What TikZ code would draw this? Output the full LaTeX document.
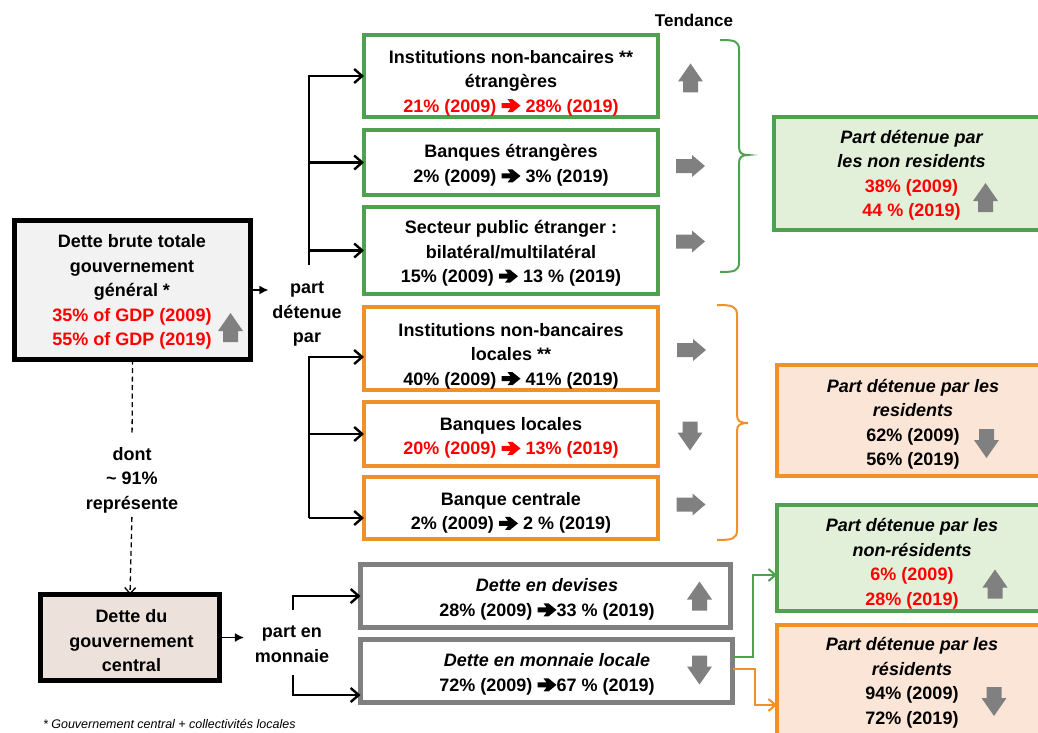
\documentclass[tikz,border=0pt]{standalone}
\usepackage{fontspec}
\setmainfont{Liberation Sans}
\usetikzlibrary{arrows.meta}
\definecolor{gboxc}{RGB}{78,161,78}
\definecolor{oboxc}{RGB}{240,144,40}
\definecolor{grayc}{RGB}{128,128,128}
\definecolor{arrgray}{RGB}{128,128,128}
\definecolor{redc}{RGB}{255,0,0}
\definecolor{gfill}{RGB}{226,240,217}
\definecolor{ofill}{RGB}{251,229,214}
\definecolor{lgfill}{RGB}{242,242,242}
\definecolor{pfill}{RGB}{237,226,219}
\newcommand\harr[1]{\tikz[baseline=0pt,x=1pt,y=1pt]\fill[#1] (0,4) -- (9,4) -- (6,0) -- (11,0) -- (19,6.5) -- (11,13) -- (6,13) -- (9,9) -- (0,9) -- cycle;}
\tikzset{
 uparr/.pic={\fill[arrgray] (-7.5,14.5) -- (-7.5,3.5) -- (-12.5,3.5) -- (0,-14.5) -- (12.5,3.5) -- (7.5,3.5) -- (7.5,14.5) -- cycle;},
 dnarr/.pic={\fill[arrgray] (-7.5,-14.5) -- (-7.5,-3.5) -- (-12.5,-3.5) -- (0,14.5) -- (12.5,-3.5) -- (7.5,-3.5) -- (7.5,-14.5) -- cycle;},
 rtarr/.pic={\fill[arrgray] (-14.5,-7) -- (1.5,-7) -- (1.5,-11) -- (14.5,0) -- (1.5,11) -- (1.5,7) -- (-14.5,7) -- cycle;}
}
\begin{document}
\begin{tikzpicture}[x=1pt,y=-1pt,
  every node/.style={inner sep=0pt, outer sep=0pt},
  txt/.style={font=\fontsize{18}{24.5}\selectfont\bfseries, align=center},
  box/.style={rectangle},
  gbox/.style={box, draw=gboxc, line width=4pt, fill=white, minimum width=294pt},
  obox/.style={box, draw=oboxc, line width=4pt, fill=white, minimum width=294pt},
  ybox/.style={box, draw=grayc, line width=5pt, fill=white},
  kbox/.style={box, draw=black, line width=5pt},
  rgbox/.style={box, draw=gboxc, line width=4pt, fill=gfill},
  robox/.style={box, draw=oboxc, line width=4pt, fill=ofill},
  conn/.style={line width=2.4pt, -{Straight Barb[length=8pt,width=14pt]}},
  thinconn/.style={line width=2pt, -{Straight Barb[length=7pt,width=12pt]}},
  fillarr/.style={line width=1.8pt, -{Latex[length=9pt,width=9pt]}},
  brace/.style={line width=2pt},
  dline/.style={line width=1.3pt, dash pattern=on 5pt off 3.5pt},
]
\useasboundingbox (0,0) rectangle (1038,733);
\clip (0,0) rectangle (1038,733);

% boxes
\node[kbox, fill=lgfill, minimum width=236pt, minimum height=139pt] (B0) at (132.5,290) {};
\node[kbox, fill=pfill, minimum width=179pt, minimum height=86pt] (B9) at (130,637.5) {};
\node[gbox, minimum height=82pt] (B1) at (511,76) {};
\node[gbox, minimum height=65pt] (B2) at (511,162.5) {};
\node[gbox, minimum height=87pt] (B3) at (511,250.5) {};
\node[obox, minimum height=83pt] (B4) at (511,348.5) {};
\node[obox, minimum height=64pt] (B5) at (511,434) {};
\node[obox, minimum height=62pt] (B6) at (511,508) {};
\node[ybox, minimum width=370pt, minimum height=63pt] (B7) at (545.5,596) {};
\node[ybox, minimum width=372pt, minimum height=63pt] (B8) at (546.5,671) {};
\node[rgbox, minimum width=284pt, minimum height=113pt] (R1) at (916,173.5) {};
\node[robox, minimum width=281pt, minimum height=111pt] (R2) at (917.5,420.5) {};
\node[rgbox, minimum width=281pt, minimum height=106pt] (R3) at (917.5,558) {};
\node[robox, minimum width=281pt, minimum height=153pt] (R4) at (917.5,701.5) {};

% texts
\node[txt] (t0) at (132,292) {Dette brute totale\\gouvernement\\général *\\\textcolor{redc}{35\% of GDP (2009)}\\\textcolor{redc}{55\% of GDP (2019)}};
\node[txt] (t9) at (131.5,641) {Dette du\\gouvernement\\central};
\node[txt] (pdp) at (307,314) {part\\détenue\\par};
\node[txt] (pem) at (292,644) {part en\\monnaie};
\node[txt] (dont) at (132,480) {dont\\\textasciitilde{} 91\%\\représente};
\node[font=\fontsize{17}{20}\selectfont\bfseries] (tend) at (694,20) {Tendance};

\node[txt] (t1) at (511,83) {Institutions non-bancaires **\\étrangères\\{\color{redc}21\% (2009) \harr{redc} 28\% (2019)}};
\node[txt] (t2) at (511,165.5) {Banques étrangères\\2\% (2009) \harr{black} 3\% (2019)};
\node[txt] (t3) at (511,253.5) {Secteur public étranger :\\bilatéral/multilatéral\\15\% (2009) \harr{black} 13 \% (2019)};
\node[txt] (t4) at (511,356) {Institutions non-bancaires\\locales **\\40\% (2009) \harr{black} 41\% (2019)};
\node[txt] (t5) at (511,438) {Banques locales\\{\color{redc}20\% (2009) \harr{redc} 13\% (2019)}};
\node[txt] (t6) at (511,513) {Banque centrale\\2\% (2009) \harr{black} 2 \% (2019)};
\node[txt] (t7) at (547,599.5) {{\itshape Dette en devises}\\28\% (2009) \harr{black}33 \% (2019)};
\node[txt] (t8) at (547,674.5) {{\itshape Dette en monnaie locale}\\72\% (2009) \harr{black}67 \% (2019)};

\node[txt] (r1) at (911.5,175.4) {{\itshape Part détenue par}\\{\itshape les non residents}\\\textcolor{redc}{38\% (2009)}\\\textcolor{redc}{44 \% (2019)}};
\node[txt] (r2) at (913,424.5) {{\itshape Part détenue par les}\\{\itshape residents}\\62\% (2009)\\56\% (2019)};
\node[txt] (r3) at (912,563.7) {{\itshape Part détenue par les}\\{\itshape non-résidents}\\\textcolor{redc}{6\% (2009)}\\\textcolor{redc}{28\% (2019)}};
\node[txt] (r4) at (912,683) {{\itshape Part détenue par les}\\{\itshape résidents}\\94\% (2009)\\72\% (2019)};

\node[font=\fontsize{12.5}{14}\selectfont\itshape, anchor=base west] (fn) at (43,728.5) {* Gouvernement central + collectivités locales};

% trend arrows
\pic at (230.5,327.5) {uparr};
\pic at (690.5,78) {uparr};
\pic at (690.5,166) {rtarr};
\pic at (690.5,241.5) {rtarr};
\pic at (691.5,350) {rtarr};
\pic at (690,436) {dnarr};
\pic at (691,504.5) {rtarr};
\pic at (699.5,596) {uparr};
\pic at (699.5,670) {dnarr};
\pic at (985.5,197.5) {uparr};
\pic at (986.5,443.5) {dnarr};
\pic at (995,584) {uparr};
\pic at (994,701.5) {dnarr};

% connectors
\draw[fillarr, shorten >=4pt] (B0.east) -- (pdp.west |- B0.east);
\draw[fillarr, shorten >=11pt] (B9.east) -- (pem.west |- B9.east);

\coordinate (ut) at (309,265);
\draw[conn] (ut) |- (B1.west);
\draw[conn] (ut) |- (B2.west);
\draw[conn] (ut) |- (B3.west);
\coordinate (lt) at (309,518);
\draw[conn] (lt) |- ([yshift=-8.5pt]B4.west);
\draw[conn] (lt) |- (B5.west);
\draw[conn] (lt) -- ([yshift=-10pt]B6.west);

\coordinate (mt) at (293,610);
\coordinate (mb) at (293,675);
\draw[conn] (mt) |- (B7.west);
\draw[conn] (mb) |- ([yshift=-24pt]B8.west);

\draw[thinconn, draw=gboxc] ([yshift=14pt]B8.east) -- ++(20,0) |- ([yshift=-17pt]R3.west);
\draw[thinconn, draw=oboxc] ([yshift=2pt]B8.east) -- ++(22,0) |- ([yshift=-3.5pt]R4.west);

\draw[dline, shorten >=14pt] (B0.south) -- (dont.north);
\draw[dline, shorten <=4pt, -{Straight Barb[length=6pt,width=11pt]}] (dont.south) -- (B9.north);

% braces
\draw[brace, gboxc] (720,40) .. controls (735,40) and (739,41) .. (739,50) -- (739,147) .. controls (739,153) and (742,155) .. (748,155) .. controls (742,155) and (739,157) .. (739,163) -- (739,262) .. controls (739,271) and (735,272) .. (720,272);
\draw[brace, oboxc] (717,305) .. controls (732,305) and (737,306) .. (737,315) -- (737,415) .. controls (737,421) and (740,423) .. (748,423) .. controls (740,423) and (737,425) .. (737,431) -- (737,530) .. controls (737,539) and (732,540) .. (717,540);
\end{tikzpicture}
\end{document}
